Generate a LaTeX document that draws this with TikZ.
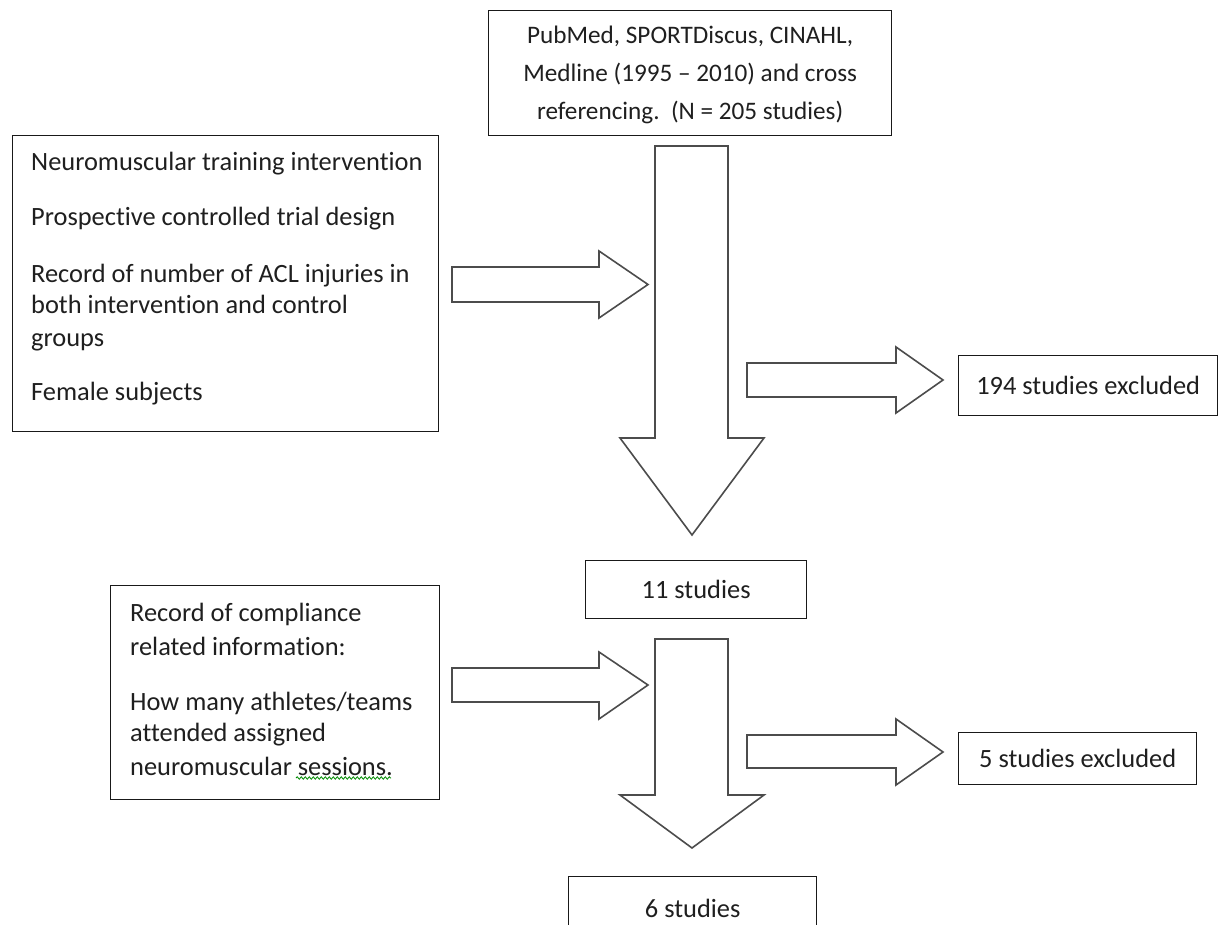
\documentclass[tikz,border=0pt]{standalone}
\usepackage{fontspec}
\setmainfont{Carlito}[Ligatures=NoCommon]
\usetikzlibrary{decorations.pathmorphing}
\tikzset{
  box/.style={draw=black!90, line width=1.3pt, fill=white, inner sep=0pt, anchor=north west},
  blockarrow/.style={draw=black!70, line width=1.6pt, fill=white, line join=miter},
  txt/.style={inner sep=0pt, text=black!88, font=\fontsize{26.4}{31.5}\selectfont, anchor=base west},
  ctxt/.style={inner sep=0pt, text=black!88, font=\fontsize{26.4}{31.5}\selectfont},
  squiggle/.style={draw=green!55!black, line width=0.8pt, decorate, decoration={snake, amplitude=1.2pt, segment length=4pt}}
}
\begin{document}
\begin{tikzpicture}[x=1pt,y=-1pt]
\clip (0,0) rectangle (1221,925);
\fill[white] (0,0) rectangle (1221,925);
% boxes
\node[box, minimum width=403, minimum height=125] (src) at (488,10) {};
\node[ctxt, align=center, font=\fontsize{25.2}{38}\selectfont] (srct) at ([yshift=-1.5pt]src.center)
  {PubMed, SPORTDiscus, CINAHL,\\Medline (1995 -- 2010) and cross\\referencing.~~(N = 205 studies)};
\node[box, minimum width=426, minimum height=296] (crit1) at (12,135) {};
\node[txt] (c1a) at (31,171) {Neuromuscular training intervention};
\node[txt] (c1b) at (31,226) {Prospective controlled trial design};
\node[txt] (c1c) at (31,283) {Record of number of ACL injuries in};
\node[txt] (c1d) at (31,314) {both intervention and control};
\node[txt] (c1e) at (31,346) {groups};
\node[txt] (c1f) at (31,400) {Female subjects};
\node[box, minimum width=329, minimum height=214] (crit2) at (110,585) {};
\node[txt] (c2a) at (130,621) {Record of compliance};
\node[txt] (c2b) at (130,655) {related information:};
\node[txt] (c2c) at (130,710) {How many athletes/teams};
\node[txt] (c2d) at (130,741) {attended assigned};
\node[txt] (c2e) at (130,775) {neuromuscular sessions.};
\coordinate (sqa) at (296,778);
\coordinate (sqb) at (391,778);
\draw[squiggle] (sqa) -- (sqb);
\node[box, minimum width=221, minimum height=58] (s11) at (585,560) {};
\node[ctxt] (s11t) at (s11.center) {11 studies};
\node[box, minimum width=259, minimum height=60] (ex194) at (958,355) {};
\node[ctxt] (ex194t) at (ex194.center) {194 studies excluded};
\node[box, minimum width=238, minimum height=52] (ex5) at (958,732) {};
\node[ctxt] (ex5t) at (ex5.center) {5 studies excluded};
\node[box, minimum width=248, minimum height=60] (s6) at (568,876) {};
\node[ctxt] (s6t) at ([yshift=-2pt]s6.center) {6 studies};
% block arrows
\draw[blockarrow] (655,146) -- (728,146) -- (728,438) -- (764,438) -- (692,535) -- (620,438) -- (655,438) -- cycle;
\draw[blockarrow] (452,267) -- (599,267) -- (599,251) -- (648,284.5) -- (599,318) -- (599,302) -- (452,302) -- cycle;
\draw[blockarrow] (747,363) -- (896,363) -- (896,347) -- (943,380) -- (896,413) -- (896,397) -- (747,397) -- cycle;
\draw[blockarrow] (655,639) -- (728,639) -- (728,795) -- (764,795) -- (692,848) -- (620,795) -- (655,795) -- cycle;
\draw[blockarrow] (452,668) -- (599,668) -- (599,652) -- (648,685) -- (599,719) -- (599,702) -- (452,702) -- cycle;
\draw[blockarrow] (747,735) -- (896,735) -- (896,719) -- (943,752) -- (896,785) -- (896,768) -- (747,768) -- cycle;
\end{tikzpicture}
\end{document}
